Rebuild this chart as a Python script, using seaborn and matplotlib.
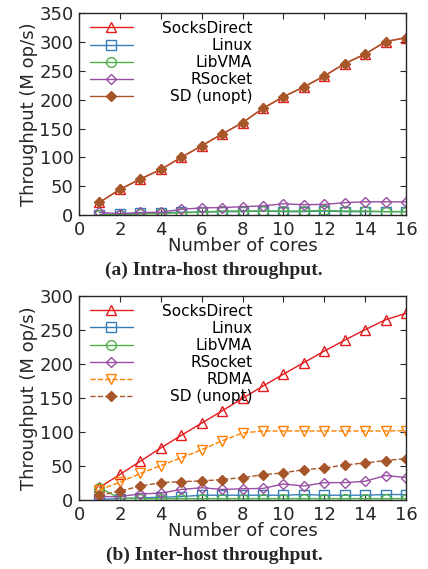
import numpy as np
import pandas as pd
import matplotlib
matplotlib.use("Agg")
import matplotlib.pyplot as plt
import seaborn as sns

cores = list(range(1, 17))

# Panel (a): intra-host
a_socksdirect = [22, 44.5, 62.5, 79, 100, 120, 140.5, 160, 185, 205, 222, 241, 262.5, 279, 300.5, 307.5]
a_linux = [1, 2, 3, 4, 5, 5, 6, 6, 7, 6, 6, 7, 6, 6, 6, 6]
a_libvma = [0.5, 1, 2, 3, 4, 5, 7, 7, 7, 7, 7, 8, 7, 7, 6, 6]
a_rsocket = [4.5, 2.5, 4.5, 5, 10, 12.5, 13, 14.5, 16, 19.5, 18, 18.5, 21.5, 23, 23, 23]
a_sdunopt = [22, 44.5, 62.5, 79, 100, 120, 140.5, 160, 185, 205, 222, 241, 262.5, 279, 300.5, 307.5]

# Panel (b): inter-host
b_socksdirect = [18.5, 37.5, 57, 76.5, 95, 113, 131, 149.5, 167.5, 185, 202, 219, 235, 250.5, 265, 274.5]
b_linux = [1, 2, 3, 4, 5, 7, 7, 7, 7, 7, 8, 7, 7, 7, 8, 8]
b_libvma = [18, 2.5, 2, 1.5, 2, 2, 2, 2, 2, 2, 2, 2, 2, 2, 2, 2]
b_rsocket = [5, 5, 9, 10, 15.5, 18, 15.5, 16.5, 17, 23.5, 20.5, 25.5, 25.5, 27.5, 36, 33]
b_rdma = [15, 26, 39, 50.5, 62, 74, 87, 98.5, 101.5, 101.5, 101.5, 101.5, 101.5, 101.5, 101.5, 102]
b_sdunopt = [7, 13, 20.5, 25.5, 27, 28, 30, 33, 37, 40, 44.5, 47, 51.5, 54.5, 58, 61]

labels_a = ["SocksDirect", "Linux", "LibVMA", "RSocket", "SD (unopt)"]
labels_b = ["SocksDirect", "Linux", "LibVMA", "RSocket", "RDMA", "SD (unopt)"]

pal = sns.color_palette("Set1", 9)
colors = {
    "SocksDirect": pal[0], "Linux": pal[1], "LibVMA": pal[2],
    "RSocket": pal[3], "RDMA": pal[4], "SD (unopt)": pal[6],
}
markers = {"SocksDirect": "^", "Linux": "s", "LibVMA": "o", "RSocket": "D",
           "RDMA": "v", "SD (unopt)": "D"}
msizes = {"SocksDirect": 7, "Linux": 7, "LibVMA": 7, "RSocket": 5.5, "RDMA": 7, "SD (unopt)": 5.5}

sns.set_style("ticks")
plt.rcParams["font.family"] = ["DejaVu Sans"]

fig = plt.figure(figsize=(4.28, 5.69), dpi=100)
ax1 = fig.add_axes([0.1846, 0.622, 0.764, 0.355])
ax2 = fig.add_axes([0.1846, 0.1213, 0.764, 0.3585])


def draw(ax, series, labels, dashed, ymax):
    for lab in labels:
        vals = series[lab]
        filled = lab == "SD (unopt)"
        ls = "--" if lab in dashed else "-"
        c = colors[lab]
        sns.lineplot(x=cores, y=vals, ax=ax, color=c, linewidth=1.0, linestyle=ls,
                     marker=markers[lab], markersize=msizes[lab],
                     markerfacecolor=c if filled else "none",
                     markeredgecolor=c, markeredgewidth=1.0, label=lab)
    ax.set_xlim(0, 16)
    ax.set_ylim(0, ymax)
    ax.set_xticks(range(0, 17, 2))
    ax.set_yticks(range(0, ymax + 1, 50))
    ax.tick_params(direction="in", top=True, right=True, labelsize=13, length=4)
    ax.tick_params(axis="x", pad=4)
    ax.tick_params(axis="y", pad=4)
    ax.set_xlabel("Number of cores", fontsize=13, labelpad=-1)
    ax.set_ylabel("Throughput (M op/s)", fontsize=13, labelpad=1)
    for s in ax.spines.values():
        s.set_linewidth(1.0)
    leg = ax.legend(loc="upper left", frameon=False, fontsize=11, handlelength=2.8,
                    handletextpad=1.9, labelspacing=0.14, borderaxespad=0.1,
                    bbox_to_anchor=(0.01, 1.0))
    fig.canvas.draw()
    renderer = fig.canvas.get_renderer()
    texts = leg.get_texts()
    boxes = [t.get_window_extent(renderer) for t in texts]
    right = max(b.x1 for b in boxes)
    for t, b in zip(texts, boxes):
        fig.text(right, b.y0, t.get_text(), transform=None, ha="right", va="bottom",
                 fontsize=11, color="black")
        t.set_alpha(0)


series_a = dict(zip(labels_a, [a_socksdirect, a_linux, a_libvma, a_rsocket, a_sdunopt]))
series_b = dict(zip(labels_b, [b_socksdirect, b_linux, b_libvma, b_rsocket, b_rdma, b_sdunopt]))

draw(ax1, series_a, labels_a, [], 350)
draw(ax2, series_b, labels_b, ["RDMA", "SD (unopt)"], 300)

fig.text(0.5, 1 - 270 / 569, "(a) Intra-host throughput.", ha="center", va="center",
         fontsize=14, fontweight="bold", family="Liberation Serif")
fig.text(0.5, 1 - 555 / 569, "(b) Inter-host throughput.", ha="center", va="center",
         fontsize=14, fontweight="bold", family="Liberation Serif")

fig.savefig("out.png", dpi=100)
